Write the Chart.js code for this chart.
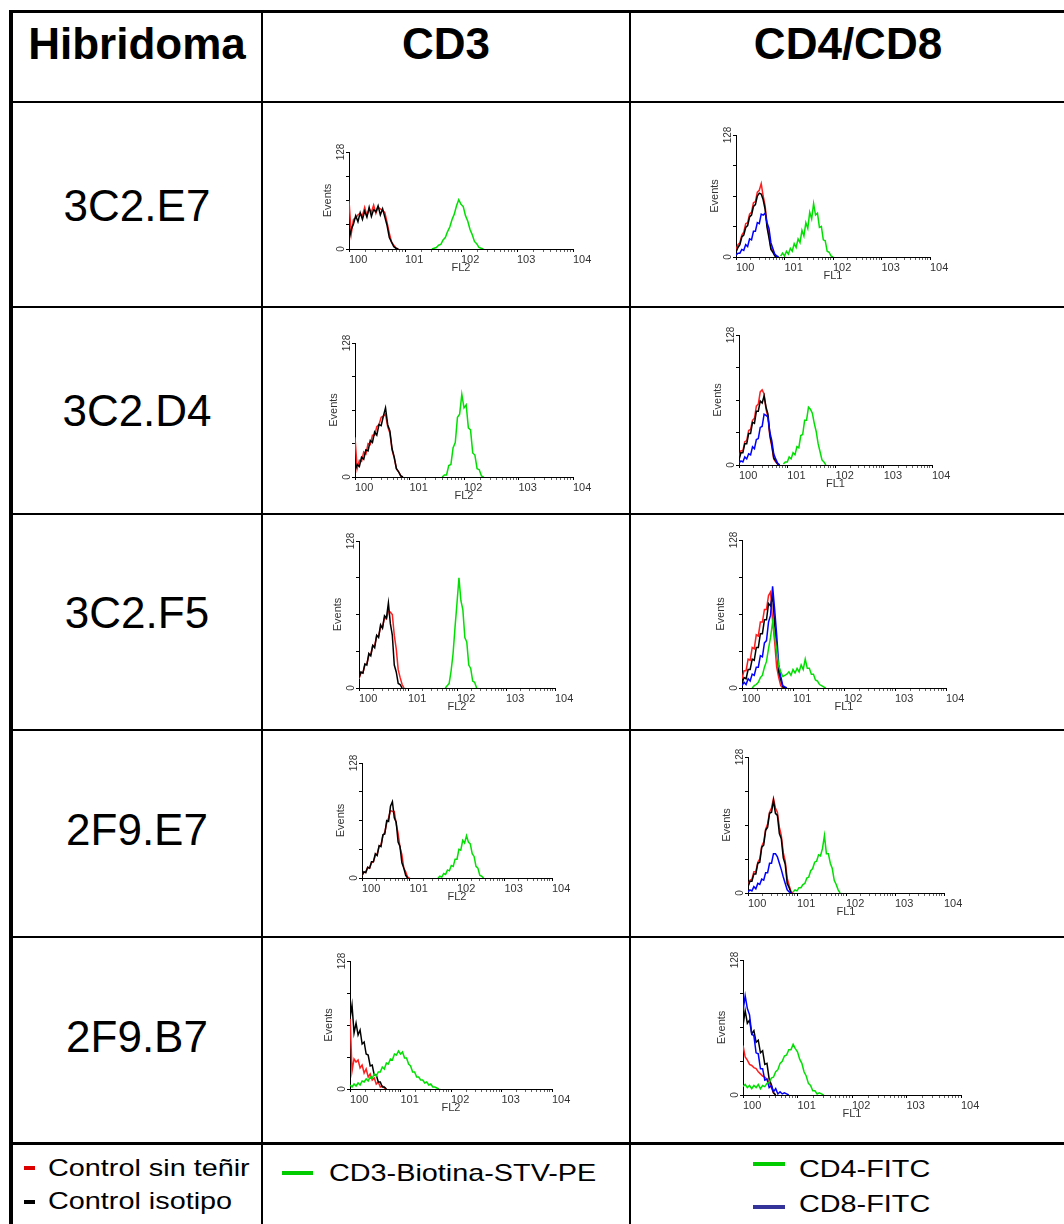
<!DOCTYPE html>
<html>
<head>
<meta charset="utf-8">
<script src="https://cdn.jsdelivr.net/npm/chart.js@4.4.1/dist/chart.umd.min.js"></script>
<style>
  html, body { margin: 0; padding: 0; background: #fff; }
  body { width: 1064px; height: 1224px; overflow: hidden; position: relative;
         font-family: "Liberation Sans", Arial, sans-serif; color: #000; }
  .ln { position: absolute; background: #000; }
  .txt { position: absolute; white-space: nowrap; line-height: 1; }
  .hdr { font-weight: bold; font-size: 44px; line-height: 44px; width: 400px; text-align: center; }
  .row { font-size: 44px; line-height: 44px; width: 400px; text-align: center; }
  .leg { font-size: 24px; line-height: 24px; transform: scaleX(1.2); transform-origin: 0 0; }
  .mk { position: absolute; }
  canvas { position: absolute; }
</style>
</head>
<body>
<div id="root"></div>
<script>
// ---------------- DATA ----------------
const columnHeaders = ['Hibridoma', 'CD3', 'CD4/CD8'];
const hybridomas = ['3C2.E7', '3C2.D4', '3C2.F5', '2F9.E7', '2F9.B7'];
const xTickLabels = ['100', '101', '102', '103', '104'];
const yTickValues = [0, 128];
const yTickLabels = ['0', '128'];
const legendControls = ['Control sin teñir', 'Control isotipo'];
const legendCD3 = ['CD3-Biotina-STV-PE'];
const legendCD48 = ['CD4-FITC', 'CD8-FITC'];

const STEP = 0.04; // channel width in decades (log10 fluorescence)

// 3C2.E7 — CD3 (FL2): red, black, green
const C2E7_CD3_red   = [64,20,39,41,45,47,44,55,44,53,49,58,47,55,53,51,48,35,21,9,5,1,0];
const C2E7_CD3_black = [12,26,33,44,36,48,39,50,42,55,43,52,49,57,45,53,42,31,15,9,3,1,0];
const C2E7_CD3_green = [0,1,2,5,6,12,15,23,29,39,46,57,65,59,56,44,37,26,19,10,7,2,1,0];
const C2E7_CD3_start = [0, 0, 1.48];

// 3C2.E7 — CD4/CD8 (FL1): red, black, blue, green
const C2E7_CD48_red   = [7,13,15,23,26,35,36,45,47,57,58,68,70,77,64,54,34,23,10,6,2,0];
const C2E7_CD48_black = [5,10,13,21,23,31,33,42,44,53,55,64,67,66,60,50,31,20,8,5,1,0];
const C2E7_CD48_blue  = [2,4,4,8,7,13,11,19,18,27,27,36,35,45,44,46,36,30,15,9,3,1,0];
const C2E7_CD48_green = [1,4,1,6,3,9,6,14,10,19,15,28,22,36,30,47,40,56,44,46,31,32,18,17,6,5,1,0];
const C2E7_CD48_start = [0, 0, 0, 0.92];

// 3C2.D4 — CD3
const C2D4_CD3_red   = [38,8,16,15,24,22,32,31,40,40,48,50,57,58,60,48,42,26,18,8,5,1,0];
const C2D4_CD3_black = [6,12,10,19,17,26,25,35,33,43,40,50,49,58,66,50,44,27,19,8,5,1,0];
const C2D4_CD3_green = [0,2,2,11,12,28,33,57,60,79,66,69,47,45,23,21,8,7,1,0];
const C2D4_CD3_start = [0, 0, 1.6];

// 3C2.D4 — CD4/CD8
const C2D4_CD48_red   = [7,14,14,23,24,34,35,44,46,58,60,72,74,70,55,47,28,18,6,3,1,0];
const C2D4_CD48_black = [5,12,12,21,21,31,31,42,41,53,53,63,61,68,57,50,30,20,7,4,1,0];
const C2D4_CD48_blue  = [2,4,3,8,6,11,10,18,16,25,26,37,38,50,49,47,32,24,11,6,2,0];
const C2D4_CD48_green = [1,3,3,8,6,12,10,18,17,29,30,44,44,57,55,51,41,33,21,13,5,3,0];
const C2D4_CD48_start = [0, 0, 0, 0.92];

// 3C2.F5 — CD3
const C2F5_CD3_red   = [8,13,13,20,21,28,29,37,37,45,45,53,53,61,60,67,66,64,46,34,16,9,3,0];
const C2F5_CD3_black = [9,14,13,21,20,30,28,37,35,46,44,55,52,63,61,74,56,46,20,14,4,3,0];
const C2F5_CD3_green = [0,2,4,15,30,53,74,96,76,68,44,40,20,17,6,5,0];
const C2F5_CD3_start = [0, 0, 1.76];

// 3C2.F5 — CD4/CD8
const C2F5_CD48_red   = [8,15,15,25,24,35,34,46,45,57,57,68,68,80,83,58,40,18,9,2,0];
const C2F5_CD48_black = [4,9,8,16,16,25,24,35,35,47,47,59,59,73,71,80,56,36,14,7,1,0];
const C2F5_CD48_blue  = [2,5,3,8,6,12,11,18,18,28,27,39,41,57,63,88,68,46,20,10,2,1,0];
const C2F5_CD48_green = [0,2,3,5,9,11,18,23,34,44,57,45,33,19,14,10,11,12,14,11,16,13,17,14,20,16,25,17,17,12,12,7,6,3,2,1,0];
const C2F5_CD48_start = [0, 0, 0, 0.2];

// 2F9.E7 — CD3
const F9E7_CD3_red   = [3,6,7,12,11,17,18,25,27,35,37,47,51,61,67,75,74,74,60,50,34,26,11,7,1,0];
const F9E7_CD3_black = [3,7,6,12,11,18,18,27,25,36,35,48,49,64,63,80,85,67,62,40,35,17,11,3,0];
const F9E7_CD3_green = [0,2,1,5,4,9,8,14,13,21,21,32,31,42,39,47,40,38,27,24,13,11,3,2,0];
const F9E7_CD3_start = [0, 0, 1.6];

// 2F9.E7 — CD4/CD8
const F9E7_CD48_red   = [7,12,13,20,20,29,32,44,48,60,65,76,80,89,80,76,62,54,38,30,14,7,1,0];
const F9E7_CD48_black = [6,11,11,18,18,28,29,43,45,59,62,75,76,87,75,73,56,51,33,27,9,5,0];
const F9E7_CD48_blue  = [1,3,2,6,4,9,8,13,12,19,19,28,28,37,37,34,28,22,15,9,3,1,0];
const F9E7_CD48_green = [1,3,2,5,5,8,9,14,15,21,23,29,30,36,35,42,54,37,37,28,23,12,8,3,0];
const F9E7_CD48_start = [0, 0, 0, 0.92];

// 2F9.B7 — CD3
const F9B7_CD3_red   = [74,18,30,27,29,21,24,16,20,12,15,9,11,5,7,2,3,1,0];
const F9B7_CD3_black = [70,84,56,66,54,59,45,47,35,34,23,24,14,14,7,7,2,2,0];
const F9B7_CD3_green = [4,2,5,3,6,4,8,7,10,8,12,11,15,13,17,17,22,20,26,25,30,29,35,34,38,35,37,31,31,25,23,17,17,12,12,9,9,6,7,4,5,2,2,1,0];
const F9B7_CD3_start = [0, 0, 0];

// 2F9.B7 — CD4/CD8
const F9B7_CD48_red   = [47,36,33,29,28,26,25,22,20,18,17,15,12,7,2,0];
const F9B7_CD48_black = [66,80,68,71,58,61,50,52,40,42,29,30,15,10,2,0];
const F9B7_CD48_blue  = [80,94,82,76,58,56,40,39,25,25,14,15,7,9,3,6,1,3,1,2,1,0];
const F9B7_CD48_green = [8,10,7,9,6,9,7,10,6,9,8,11,12,16,17,22,24,30,32,37,38,43,43,48,44,41,34,30,22,18,11,9,4,4,1,2,1,0];
const F9B7_CD48_start = [0, 0, 0, 0];

// ---------------- PRESENTATION ----------------
const FONT = '"Liberation Sans", Arial, sans-serif';
const seriesColors = { red: '#ff1f1f', black: '#000000', blue: '#0000ff', green: '#00e000' };
const CD3_KEYS = ['red', 'black', 'green'];
const CD48_KEYS = ['red', 'black', 'blue', 'green'];

const panels = [
  { axis: 'FL2', keys: CD3_KEYS,  data: [C2E7_CD3_red, C2E7_CD3_black, C2E7_CD3_green], start: C2E7_CD3_start },
  { axis: 'FL1', keys: CD48_KEYS, data: [C2E7_CD48_red, C2E7_CD48_black, C2E7_CD48_blue, C2E7_CD48_green], start: C2E7_CD48_start },
  { axis: 'FL2', keys: CD3_KEYS,  data: [C2D4_CD3_red, C2D4_CD3_black, C2D4_CD3_green], start: C2D4_CD3_start },
  { axis: 'FL1', keys: CD48_KEYS, data: [C2D4_CD48_red, C2D4_CD48_black, C2D4_CD48_blue, C2D4_CD48_green], start: C2D4_CD48_start },
  { axis: 'FL2', keys: CD3_KEYS,  data: [C2F5_CD3_red, C2F5_CD3_black, C2F5_CD3_green], start: C2F5_CD3_start },
  { axis: 'FL1', keys: CD48_KEYS, data: [C2F5_CD48_red, C2F5_CD48_black, C2F5_CD48_blue, C2F5_CD48_green], start: C2F5_CD48_start },
  { axis: 'FL2', keys: CD3_KEYS,  data: [F9E7_CD3_red, F9E7_CD3_black, F9E7_CD3_green], start: F9E7_CD3_start },
  { axis: 'FL1', keys: CD48_KEYS, data: [F9E7_CD48_red, F9E7_CD48_black, F9E7_CD48_blue, F9E7_CD48_green], start: F9E7_CD48_start },
  { axis: 'FL2', keys: CD3_KEYS,  data: [F9B7_CD3_red, F9B7_CD3_black, F9B7_CD3_green], start: F9B7_CD3_start },
  { axis: 'FL1', keys: CD48_KEYS, data: [F9B7_CD48_red, F9B7_CD48_black, F9B7_CD48_blue, F9B7_CD48_green], start: F9B7_CD48_start },
];

// plot-area boxes on the page: [axisLeft, top(128), right(10^4), bottom(0)]
const panelBoxes = [
  [349,152,573,249], [736,135,930,257],
  [355,343,573,477], [739,335,932,465],
  [359,541,555,688], [742,540,946,688],
  [362,763,552,878], [748,757,944,893],
  [350,961,552,1089],[743,960,961,1095]
];

const root = document.getElementById('root');
function el(cls, css, text) {
  const d = document.createElement('div');
  d.className = cls;
  Object.assign(d.style, css);
  if (text !== undefined) d.textContent = text;
  root.appendChild(d);
  return d;
}
function px(v) { return v + 'px'; }

// table lines
el('ln', { left: px(9), top: px(10), width: px(1055), height: px(3) });      // top border
el('ln', { left: px(9), top: px(10), width: px(4), height: px(1214) });      // left border
el('ln', { left: px(261), top: px(10), width: px(2), height: px(1214) });
el('ln', { left: px(629), top: px(10), width: px(2), height: px(1214) });
[101, 306, 513, 729, 936].forEach(y => el('ln', { left: px(9), top: px(y), width: px(1055), height: px(2) }));
el('ln', { left: px(9), top: px(1142), width: px(1055), height: px(3) });

// header texts
const hdrCenters = [137, 446, 848];
columnHeaders.forEach((t, i) => el('txt hdr', { left: px(hdrCenters[i] - 200), top: px(59 - 37.2) }, t));
// row labels
const rowBaselines = [221, 426, 628, 845, 1052];
hybridomas.forEach((t, i) => el('txt row', { left: px(137 - 200), top: px(rowBaselines[i] - 37.2) }, t));

// legend
el('mk', { left: px(24), top: px(1166), width: px(11), height: px(4), background: '#dd0000' });
el('mk', { left: px(24), top: px(1200), width: px(11), height: px(4), background: '#000' });
el('txt leg', { left: px(47.5), top: px(1176 - 20.3) }, legendControls[0]);
el('txt leg', { left: px(47.5), top: px(1209 - 20.3) }, legendControls[1]);
el('mk', { left: px(282), top: px(1171), width: px(31), height: px(4), background: '#00cc00' });
el('txt leg', { left: px(329), top: px(1181 - 20.3) }, legendCD3[0]);
el('mk', { left: px(753), top: px(1162), width: px(32), height: px(4), background: '#00cc00' });
el('mk', { left: px(753), top: px(1205), width: px(32), height: px(4), background: '#333399' });
el('txt leg', { left: px(799), top: px(1177 - 20.3) }, legendCD48[0]);
el('txt leg', { left: px(799), top: px(1212 - 20.3) }, legendCD48[1]);

// ---------------- CHARTS ----------------
Chart.defaults.font.family = FONT;
Chart.defaults.animation = false;

// log-decade tick positions (majors at decades, minors at 2..9)
const xTickPositions = [];
for (let d = 0; d < 4; d++) for (let k = 1; k <= 9; k++) xTickPositions.push(d + Math.log10(k));
xTickPositions.push(4);
const yTickPositions = [0, 32, 64, 96, 128];

const rotatedYLabels = {
  id: 'rotatedYLabels',
  afterDraw(chart) {
    const ctx = chart.ctx, ys = chart.scales.y;
    ctx.save();
    ctx.font = '10px ' + FONT;
    ctx.fillStyle = '#333';
    ctx.textAlign = 'center';
    ctx.textBaseline = 'middle';
    yTickValues.forEach((v, i) => {
      ctx.save();
      ctx.translate(chart.chartArea.left - 8, ys.getPixelForValue(v));
      ctx.rotate(-Math.PI / 2);
      ctx.fillText(yTickLabels[i], 0, 0);
      ctx.restore();
    });
    ctx.restore();
  }
};

const PAD_T = 8, PAD_R = 24, YW = 30, XH = 31;
panels.forEach((p, idx) => {
  const [ax, ty, rx, by] = panelBoxes[idx];
  const cv = document.createElement('canvas');
  const w = rx - ax + YW + PAD_R, h = by - ty + PAD_T + XH;
  cv.width = w; cv.height = h;
  cv.style.left = px(ax - YW); cv.style.top = px(ty - PAD_T);
  cv.style.width = px(w); cv.style.height = px(h);
  root.appendChild(cv);

  const datasets = p.keys.map((k, i) => ({
    label: k,
    data: p.data[i].map((c, j) => ({ x: +(p.start[i] + j * STEP).toFixed(3), y: c })),
    borderColor: seriesColors[k],
    borderWidth: 1.5,
    pointRadius: 0,
    tension: 0,
    fill: false
  })).reverse(); // first dataset drawn on top -> green on top

  new Chart(cv, {
    type: 'line',
    data: { datasets },
    plugins: [rotatedYLabels],
    options: {
      responsive: false,
      devicePixelRatio: 1,
      animation: false,
      layout: { padding: { left: 0, top: PAD_T, right: PAD_R, bottom: 0 } },
      plugins: { legend: { display: false }, tooltip: { enabled: false } },
      scales: {
        x: {
          type: 'linear', min: 0, max: 4,
          afterBuildTicks(s) { s.ticks = xTickPositions.map(v => ({ value: v })); },
          afterFit(s) { s.height = XH; },
          ticks: {
            autoSkip: false, maxRotation: 0, minRotation: 0, align: 'start', padding: 1,
            color: '#333', font: { size: 11 },
            callback(v) {
              const r = Math.round(v);
              return Math.abs(v - r) < 1e-6 ? xTickLabels[r] : '';
            }
          },
          grid: {
            drawOnChartArea: false, drawTicks: true, tickLength: 3,
            color: ctx => (ctx.tick && Math.abs(ctx.tick.value - Math.round(ctx.tick.value)) < 1e-6) ? '#000' : '#666'
          },
          border: { color: '#000', width: 1 },
          title: { display: true, text: p.axis, color: '#333', font: { size: 11 }, padding: { top: 0, bottom: 5 } }
        },
        y: {
          min: 0, max: 128,
          afterBuildTicks(s) { s.ticks = yTickPositions.map(v => ({ value: v })); },
          afterFit(s) { s.width = YW; },
          ticks: { display: false },
          grid: { drawOnChartArea: false, drawTicks: true, tickLength: 3, color: '#000' },
          border: { color: '#000', width: 1 },
          title: { display: true, text: 'Events', color: '#333', font: { size: 11 }, padding: { top: 2, bottom: 0 } }
        }
      }
    }
  });
});
</script>
</body>
</html>
